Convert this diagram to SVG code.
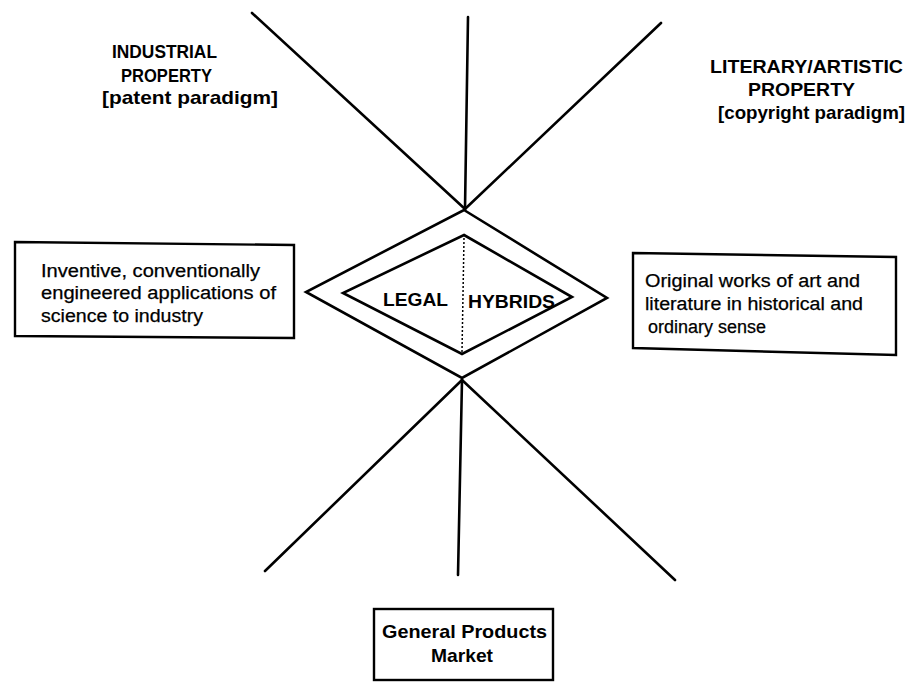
<svg xmlns="http://www.w3.org/2000/svg" width="908" height="683" viewBox="0 0 908 683">
<style>
.ln{stroke:#000;stroke-width:2.6;fill:none;stroke-linecap:round;stroke-linejoin:miter}
.bx{stroke:#000;stroke-width:2.4;fill:#fff}
.hd{font-family:"Liberation Sans",Arial,sans-serif;font-weight:bold;font-size:19px;fill:#000}
.tx{font-family:"Liberation Sans",Arial,sans-serif;font-size:18px;fill:#000;stroke:#000;stroke-width:0.25}
</style>
<rect width="908" height="683" fill="#fff"/>
<g id="connectors">
<line class="ln" x1="252" y1="13" x2="465" y2="209"/>
<line class="ln" x1="468" y1="17" x2="465" y2="209"/>
<line class="ln" x1="661" y1="23" x2="465" y2="209"/>
<line class="ln" x1="462" y1="380" x2="265" y2="571"/>
<line class="ln" x1="462" y1="380" x2="458" y2="575"/>
<line class="ln" x1="462" y1="380" x2="675" y2="580"/>
</g>
<g id="legal-hybrids">
<polygon class="ln" points="464,210 607,298 462,378 306,292"/>
<polygon class="ln" points="464,235 572,297 462,354 343,293"/>
<line x1="464" y1="238" x2="462" y2="352" stroke="#000" stroke-width="1.5" stroke-dasharray="2,2"/>
<text class="hd" x="383" y="306" textLength="65" lengthAdjust="spacingAndGlyphs">LEGAL</text>
<text class="hd" x="468" y="308" textLength="87" lengthAdjust="spacingAndGlyphs">HYBRIDS</text>
</g>
<g id="industrial-property">
<text class="hd" x="112" y="58" textLength="105" lengthAdjust="spacingAndGlyphs">INDUSTRIAL</text>
<text class="hd" x="121" y="82" textLength="91" lengthAdjust="spacingAndGlyphs">PROPERTY</text>
<text class="hd" x="102" y="104" textLength="176" lengthAdjust="spacingAndGlyphs">[patent paradigm]</text>
</g>
<g id="literary-property">
<text class="hd" x="710" y="73" textLength="193" lengthAdjust="spacingAndGlyphs">LITERARY/ARTISTIC</text>
<text class="hd" x="748" y="96" textLength="107" lengthAdjust="spacingAndGlyphs">PROPERTY</text>
<text class="hd" x="718" y="119" textLength="187" lengthAdjust="spacingAndGlyphs">[copyright paradigm]</text>
</g>
<g id="inventive-box">
<polygon class="bx" points="15,242 294,245 294,338 15,336"/>
<text class="tx" x="41" y="277" textLength="219" lengthAdjust="spacingAndGlyphs">Inventive, conventionally</text>
<text class="tx" x="41" y="299" textLength="235" lengthAdjust="spacingAndGlyphs">engineered applications of</text>
<text class="tx" x="41" y="322" textLength="162" lengthAdjust="spacingAndGlyphs">science to industry</text>
</g>
<g id="original-works-box">
<polygon class="bx" points="633,253 896,257 896,355 633,348"/>
<text class="tx" x="645" y="287" textLength="215" lengthAdjust="spacingAndGlyphs">Original works of art and</text>
<text class="tx" x="645" y="310" textLength="218" lengthAdjust="spacingAndGlyphs">literature in historical and</text>
<text class="tx" x="648" y="333" textLength="118" lengthAdjust="spacingAndGlyphs">ordinary sense</text>
</g>
<g id="general-products-market">
<rect class="bx" x="374" y="609" width="179" height="71"/>
<text class="hd" x="382" y="638" textLength="165" lengthAdjust="spacingAndGlyphs">General Products</text>
<text class="hd" x="431" y="662" textLength="62" lengthAdjust="spacingAndGlyphs">Market</text>
</g>
</svg>
